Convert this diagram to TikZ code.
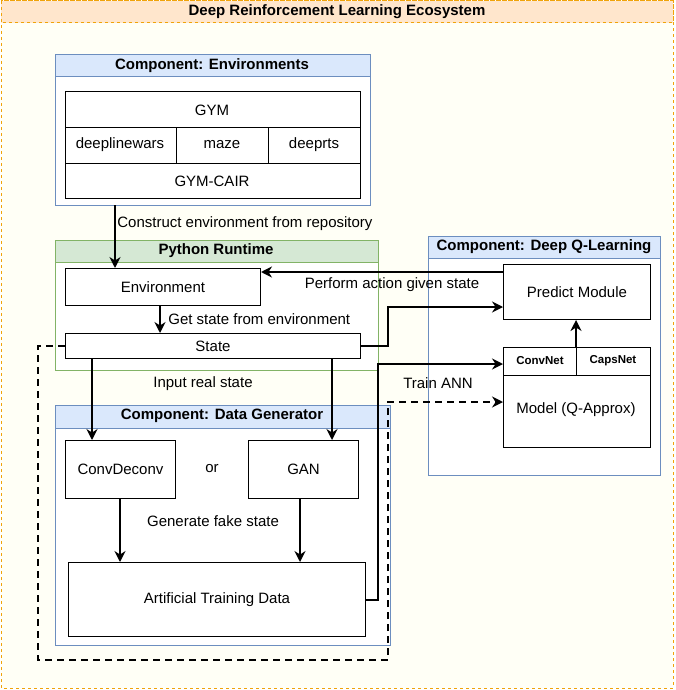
\documentclass[tikz,border=0pt]{standalone}
\usepackage{fontspec}
\setmainfont{Liberation Sans}
\usetikzlibrary{arrows.meta}
\definecolor{outerf}{HTML}{FFFFF6}
\definecolor{orangeb}{HTML}{F0A30A}
\definecolor{titlef}{HTML}{FFE6CC}
\definecolor{blueb}{HTML}{6C8EBF}
\definecolor{bluef}{HTML}{DAE8FC}
\definecolor{greenb}{HTML}{82B366}
\definecolor{greenf}{HTML}{D5E8D4}
\tikzset{
  box/.style={draw=black, fill=white, line width=1pt, inner sep=0pt},
  txt/.style={font=\fontsize{15}{17}\selectfont, inner sep=1pt},
  hdr/.style={font=\bfseries\fontsize{15}{17}\selectfont},
  sm/.style={font=\bfseries\fontsize{11.5}{13}\selectfont},
  arr/.style={line width=2.8pt, -{Stealth[length=11pt,width=11pt]}},
}
\begin{document}
\begin{tikzpicture}[x=1pt,y=-1pt]
\useasboundingbox (0,0) rectangle (675,690);
% outer
\draw[dashed, draw=orangeb, fill=outerf, line width=1pt] (1,1) rectangle (673,688);
\draw[dashed, draw=orangeb, fill=titlef, line width=1pt] (1,1) rectangle (673,23);
\node[hdr] (title) at (337,12) {Deep Reinforcement Learning Ecosystem};
% Environments container
\draw[draw=blueb, fill=white, line width=1pt] (55,55) rectangle (370,205);
\draw[draw=blueb, fill=bluef, line width=1pt] (55,55) rectangle (370,77);
\node[hdr] (envh) at (212,66) {Component: Environments};
\draw[box] (65,92) rectangle (360,198);
\draw[line width=1pt] (65,127) -- (360,127) (65,163) -- (360,163) (176,127) -- (176,163) (268,127) -- (268,163);
\node[txt] (gym) at (212,110) {GYM};
\node[txt] (dlw) at (120,145) {deeplinewars};
\node[txt] (maze) at (222,145) {maze};
\node[txt] (drts) at (314,145) {deeprts};
\node[txt] (cair) at (212,181) {GYM-CAIR};
\coordinate (envc) at (115,205);
% Python runtime
\draw[draw=greenb, fill=white, line width=1pt] (55,240) rectangle (378,370);
\draw[draw=greenb, fill=greenf, line width=1pt] (55,240) rectangle (378,262);
\node[hdr] (pyh) at (216,251) {Python Runtime};
\node[box, txt, minimum width=195pt, minimum height=37pt, anchor=north west] (envn) at (65,268) {Environment};
\node[box, txt, minimum width=295pt, minimum height=25pt, anchor=north west] (state) at (65,333) {State};
% Data generator
\draw[draw=blueb, fill=white, line width=1pt] (55,405) rectangle (390,645);
\draw[draw=blueb, fill=bluef, line width=1pt] (55,405) rectangle (390,428);
\node[hdr] (dgh) at (222,416) {Component: Data Generator};
\node[box, txt, minimum width=110pt, minimum height=58pt, anchor=north west] (cd) at (65,440) {ConvDeconv};
\node[txt] (or) at (212,469) {or};
\node[box, txt, minimum width=110pt, minimum height=58pt, anchor=north west] (gan) at (248,440) {GAN};
\node[box, txt, minimum width=297pt, minimum height=74pt, anchor=north west] (atd) at (68,562) {Artificial Training Data};
% Deep Q
\draw[draw=blueb, fill=white, line width=1pt] (428,236) rectangle (660,475);
\draw[draw=blueb, fill=bluef, line width=1pt] (428,236) rectangle (660,258);
\node[hdr] (dqh) at (544,247) {Component: Deep Q-Learning};
\node[box, txt, minimum width=147pt, minimum height=55pt, anchor=north west] (pm) at (503,264) {Predict Module};
\draw[box] (503,347) rectangle (650,447);
\draw[line width=1pt] (503,375) -- (650,375) (576,347) -- (576,375);
\node[sm] (cn) at (540,361) {ConvNet};
\node[sm] (cap) at (613,361) {CapsNet};
\node[txt] (model) at (576,410) {Model (Q-Approx)};
\coordinate (mtop) at (576,347);
% arrows
\draw[arr] (envc) -- (envn.north -| envc) node[pos=0.3, right, txt] {Construct environment from repository};
\draw[arr] (pm.west |- 0,272) -- (envn.east |- 0,272);
\node[txt] (lpa) at (392,285) {Perform action given state};
\draw[arr] (envn.south -| 160,0) -- (state.north -| 160,0) node[midway, right=6pt, txt] {Get state from environment};
\draw[arr] (state.east) -- (388,346) -- (388,307) -- (pm.west |- 0,307);
\draw[arr] (state.south -| 92,0) -- (cd.north -| 92,0);
\draw[arr] (state.south -| 332,0) -- (gan.north -| 332,0);
\node[txt] (lirs) at (203,384) {Input real state};
\draw[arr] (cd.south -| 120,0) -- (atd.north -| 120,0);
\draw[arr] (gan.south -| 300,0) -- (atd.north -| 300,0);
\node[txt] (lgfs) at (213,521) {Generate fake state};
\draw[arr] (atd.east |- 0,600) -- (378,600) -- (378,364) -- (503,364);
\node[txt] (ltann) at (438,383) {Train ANN};
\draw[arr, dash pattern=on 7pt off 5pt] (state.west) -- (38,346) -- (38,660) -- (388,660) -- (388,402) -- (503,402);
\draw[arr] (mtop) -- (pm.south -| mtop);
\end{tikzpicture}
\end{document}
